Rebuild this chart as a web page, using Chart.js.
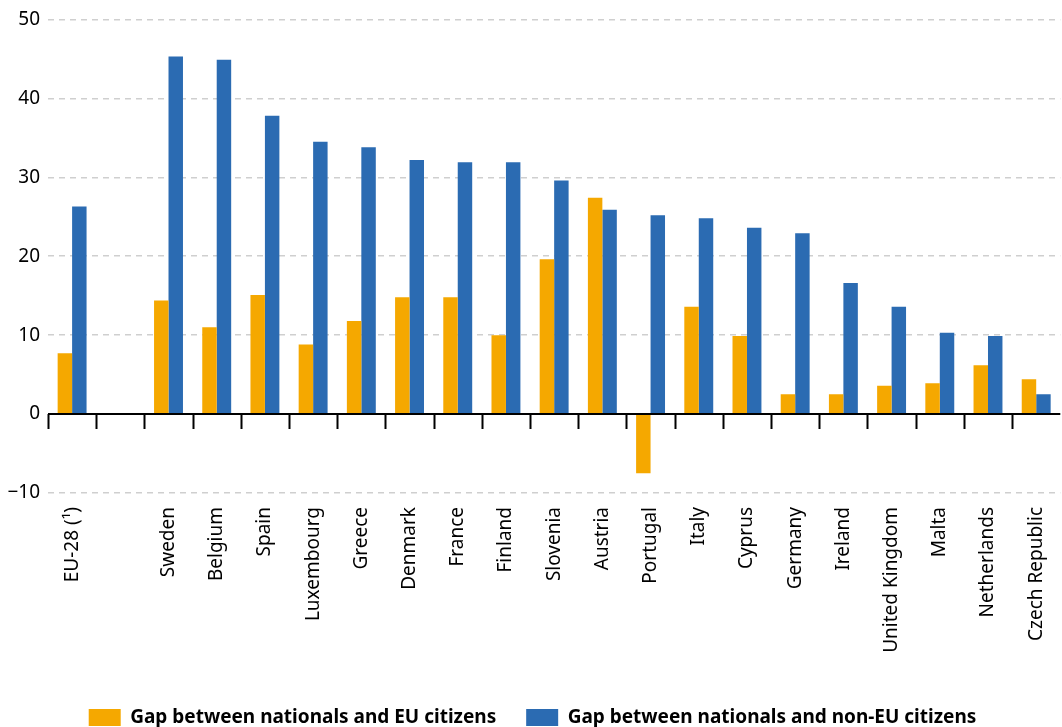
<!DOCTYPE html>
<html>
<head>
<meta charset="utf-8">
<script src="https://cdn.jsdelivr.net/npm/chart.js@4"></script>
<style>
  html, body { margin: 0; padding: 0; background: #fff; overflow: hidden; }
  #wrap { width: 1062px; height: 727px; overflow: hidden; }
</style>
</head>
<body>
<div id="wrap"><canvas id="gapChart" width="1065" height="727"></canvas></div>
<script>
const categories = ['EU-28 (¹)', '', 'Sweden', 'Belgium', 'Spain', 'Luxembourg', 'Greece', 'Denmark', 'France', 'Finland', 'Slovenia', 'Austria', 'Portugal', 'Italy', 'Cyprus', 'Germany', 'Ireland', 'United Kingdom', 'Malta', 'Netherlands', 'Czech Republic'];
const euGap = [7.7, null, 14.4, 11.0, 15.1, 8.8, 11.8, 14.8, 14.8, 10.0, 19.6, 27.4, -7.5, 13.6, 9.9, 2.5, 2.5, 3.6, 3.9, 6.2, 4.4];
const nonEuGap = [26.3, null, 45.3, 44.9, 37.8, 34.5, 33.8, 32.2, 31.9, 31.9, 29.6, 25.9, 25.2, 24.8, 23.6, 22.9, 16.6, 13.6, 10.3, 9.9, 2.5];
const yTicks = [-10, 0, 10, 20, 30, 40, 50];

const FONT = "'Noto Sans', 'Open Sans', sans-serif";

// zero line with tick marks between the categories
const zeroAxis = {
  id: 'zeroAxis',
  afterDatasetsDraw(chart) {
    const { ctx, chartArea, scales } = chart;
    const y0 = scales.y.getPixelForValue(0);
    const x = scales.x;
    ctx.save();
    ctx.strokeStyle = '#000';
    ctx.lineWidth = 2;
    ctx.beginPath();
    ctx.moveTo(chartArea.left, y0);
    ctx.lineTo(chartArea.right, y0);
    for (let i = 0; i < categories.length; i++) {
      const bx = Math.round(x.getPixelForValue(i - 0.5)) + 0.5;
      ctx.moveTo(bx, y0);
      ctx.lineTo(bx, y0 + 15);
    }
    ctx.stroke();
    ctx.restore();
  }
};

new Chart(document.getElementById('gapChart').getContext('2d'), {
  type: 'bar',
  data: {
    labels: categories,
    datasets: [
      {
        label: 'Gap between nationals and EU citizens',
        data: euGap,
        backgroundColor: '#F5A800',
        borderWidth: 0
      },
      {
        label: 'Gap between nationals and non-EU citizens',
        data: nonEuGap,
        backgroundColor: '#2B6BB2',
        borderWidth: 0
      }
    ]
  },
  options: {
    responsive: false,
    animation: false,
    layout: { padding: { top: 17, right: 0, left: 0, bottom: 0 } },
    datasets: {
      bar: { categoryPercentage: 0.6, barPercentage: 1.0 }
    },
    plugins: {
      legend: {
        position: 'bottom',
        maxHeight: 49,
        labels: {
          boxWidth: 32,
          boxHeight: 17,
          padding: 30,
          color: '#000',
          font: { family: FONT, size: 19, weight: 'bold' }
        }
      },
      tooltip: { enabled: false }
    },
    scales: {
      x: {
        grid: { display: false },
        border: { display: false },
        afterFit: scale => { scale.height = 185; },
        ticks: {
          minRotation: 90,
          maxRotation: 90,
          autoSkip: false,
          padding: 6,
          color: '#000',
          font: { family: FONT, size: 19 }
        }
      },
      y: {
        min: -10,
        max: 50,
        afterFit: scale => { scale.width = 48; },
        afterBuildTicks: scale => { scale.ticks = yTicks.map(v => ({ value: v })); },
        grid: {
          color: ctx => ctx.tick && ctx.tick.value === 0 ? 'rgba(0,0,0,0)' : '#cfcfcf',
          lineWidth: 1.5,
          drawTicks: false
        },
        border: { display: false, dash: [6, 5] },
        ticks: {
          padding: 8,
          color: '#000',
          font: { family: FONT, size: 19 },
          callback: v => v < 0 ? '\u2212' + Math.abs(v) : String(v)
        }
      }
    }
  },
  plugins: [zeroAxis]
});
</script>
</body>
</html>
